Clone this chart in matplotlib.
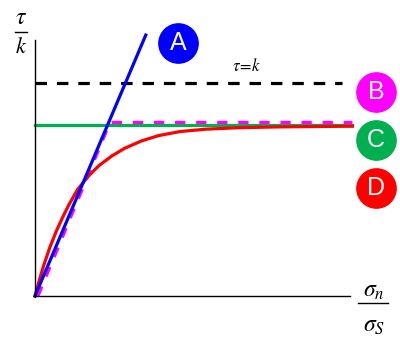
import matplotlib.pyplot as plt
plt.rcParams['mathtext.fontset'] = 'stix'

# curve A: straight line
a_x = [0.0, 0.52]
a_y = [0.0, 1.225]
# curve B: dashed bilinear
b_x = [0.014, 0.352, 1.49]
b_y = [0.0, 0.815, 0.815]
# curve C: flat line
c_x = [0.0, 1.49]
c_y = [0.803, 0.803]
# curve D: smooth saturating curve
d_x = [0.0, 0.02, 0.04, 0.07, 0.10, 0.13, 0.16, 0.20, 0.25, 0.30,
       0.36, 0.42, 0.50, 0.58, 0.68, 0.80, 0.95, 1.15, 1.35, 1.49]
d_y = [0.0, 0.073, 0.141, 0.229, 0.304, 0.370, 0.430, 0.500, 0.562, 0.612,
       0.657, 0.693, 0.728, 0.753, 0.772, 0.783, 0.790, 0.794, 0.796, 0.797]
# tau = k limit
k_x = [0.0, 1.44]
k_y = [1.0, 1.0]

labels = ['A', 'B', 'C', 'D']
label_x = [0.671, 1.601, 1.601, 1.601]
label_y = [1.188, 0.958, 0.732, 0.507]
label_colors = ['#0000ff', '#ff00ff', '#00b050', '#ff0000']

fig = plt.figure(figsize=(4, 3.38), dpi=100)
ax = fig.add_axes([35/400, 42/338, 315/400, 256/338])
ax.set_xlim(0, 315/213)
ax.set_ylim(0, 256/213)
for s in ['top', 'right']:
    ax.spines[s].set_visible(False)
for s in ['left', 'bottom']:
    ax.spines[s].set_linewidth(1.0)
ax.set_xticks([])
ax.set_yticks([])

ax.plot(k_x, k_y, color='black', lw=2.3, dashes=(3.6, 3.1), clip_on=False)
ax.plot(c_x, c_y, color='#00b050', lw=2.3, clip_on=False)
ax.plot(b_x, b_y, color='#ff00ff', lw=2.3, dashes=(3.2, 3.4), clip_on=False)
ax.plot(d_x, d_y, color='#ff0000', lw=2.3, clip_on=False)
ax.plot(a_x, a_y, color='#0000ff', lw=2.3, clip_on=False)

for lab, x, y, c in zip(labels, label_x, label_y, label_colors):
    ax.scatter([x], [y], s=800, color=c, clip_on=False, zorder=5)
    ax.text(x, y, lab, color='white', fontsize=18, family='Liberation Sans',
            ha='center', va='center', zorder=6, clip_on=False)

ax.text(246/400, 1 - 66/338, r'$\tau\!=\!k$', transform=fig.transFigure,
        fontsize=12, ha='center', va='center')

# axis labels as stacked fractions
fig.text(21/400, 1 - 17/338, r'$\tau$', fontsize=17, ha='center', va='center')
fig.add_artist(plt.Line2D([15/400, 27/400], [1 - 32/338, 1 - 32/338],
                          color='black', lw=1.0))
fig.text(21/400, 1 - 47/338, r'$k$', fontsize=16, ha='center', va='center')

fig.text(374/400, 1 - 290/338, r'$\sigma_n$', fontsize=17, ha='center', va='center')
fig.add_artist(plt.Line2D([358/400, 388/400], [1 - 303/338, 1 - 303/338],
                          color='black', lw=1.0))
fig.text(374/400, 1 - 325/338, r'$\sigma_S$', fontsize=17, ha='center', va='center')

fig.savefig('out.png', dpi=100)
